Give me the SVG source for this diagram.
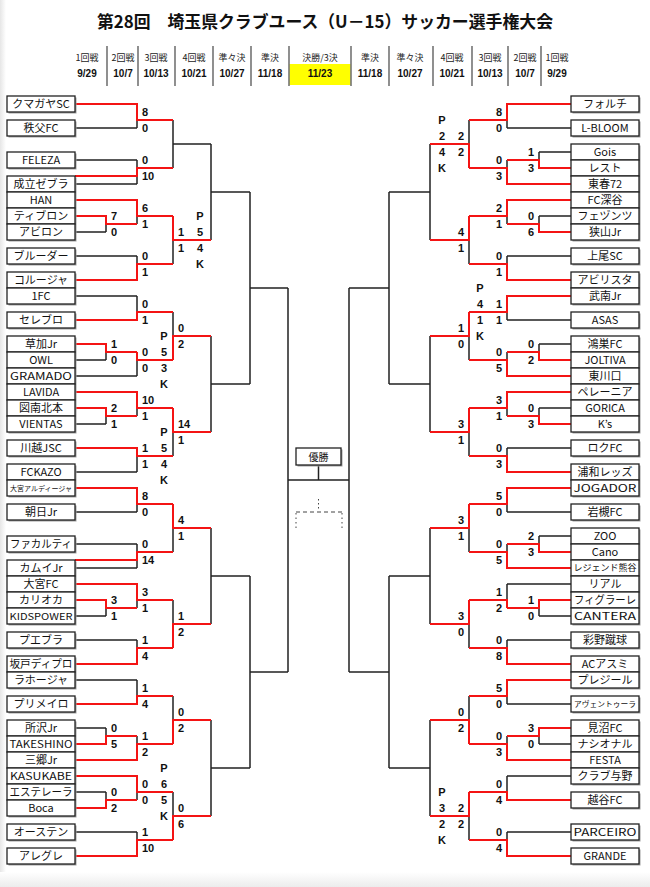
<svg xmlns="http://www.w3.org/2000/svg" width="650" height="887" viewBox="0 0 650 887">
<defs>
<linearGradient id="gl" x1="0" y1="0" x2="1" y2="0"><stop offset="0" stop-color="#e6e6e6"/><stop offset="1" stop-color="#ffffff"/></linearGradient>
<linearGradient id="gb" x1="0" y1="0" x2="0" y2="1"><stop offset="0" stop-color="#ffffff"/><stop offset="1" stop-color="#ececec"/></linearGradient>
</defs>
<style>
.k{stroke:#222;stroke-width:1.5;fill:none}
.r{stroke:#f41414;stroke-width:2;fill:none}
.box{fill:#fff;stroke:#222;stroke-width:1.3}
.sh{fill:#a0a0a0}
.n{font-family:"Noto Sans CJK JP","Liberation Sans",sans-serif;font-size:11px;text-anchor:middle;fill:#111}
.s{font-family:"Liberation Sans",Arial,sans-serif;font-weight:bold;font-size:11px;fill:#111}
.sl{text-anchor:start}.se{text-anchor:end}.sm{text-anchor:middle}
.hl{font-family:"Noto Sans CJK JP","Liberation Sans",sans-serif;font-size:9px;text-anchor:middle;fill:#222}
.hd{font-family:"Liberation Sans",Arial,sans-serif;font-weight:bold;font-size:10px;text-anchor:middle;fill:#111}
.sep{stroke:#555;stroke-width:1.3}
.dot{stroke:#444;stroke-width:1;fill:none}
</style>
<rect width="650" height="887" fill="#fff"/>
<rect x="0" y="0" width="6" height="887" fill="url(#gl)"/>
<rect x="0" y="872" width="650" height="15" fill="url(#gb)"/>

<g id="header">
<text x="325" y="28" font-family="'Noto Sans CJK JP','Liberation Sans',sans-serif" font-weight="bold" font-size="17" text-anchor="middle" textLength="456" lengthAdjust="spacingAndGlyphs" fill="#111">第28回　埼玉県クラブユース（U－15）サッカー選手権大会</text>
<rect x="289.5" y="64" width="61" height="21" fill="#ffff00"/>
<path class="sep" d="M107 46V86M138 46V86M175 46V86M213 46V86M251 46V86M289 46V86M351 46V86M389 46V86M433 46V86M472 46V86M508 46V86M541 46V86"/>
<text class="hl" x="87" y="61">1回戦</text><text class="hd" x="87" y="77">9/29</text>
<text class="hl" x="123" y="61">2回戦</text><text class="hd" x="123" y="77">10/7</text>
<text class="hl" x="156" y="61">3回戦</text><text class="hd" x="156" y="77">10/13</text>
<text class="hl" x="194" y="61">4回戦</text><text class="hd" x="194" y="77">10/21</text>
<text class="hl" x="232" y="61">準々決</text><text class="hd" x="232" y="77">10/27</text>
<text class="hl" x="270" y="61">準決</text><text class="hd" x="270" y="77">11/18</text>
<text class="hl" x="320" y="61">決勝/3決</text><text class="hd" x="320" y="77">11/23</text>
<text class="hl" x="370" y="61">準決</text><text class="hd" x="370" y="77">11/18</text>
<text class="hl" x="410" y="61">準々決</text><text class="hd" x="410" y="77">10/27</text>
<text class="hl" x="452" y="61">4回戦</text><text class="hd" x="452" y="77">10/21</text>
<text class="hl" x="490" y="61">3回戦</text><text class="hd" x="490" y="77">10/13</text>
<text class="hl" x="525" y="61">2回戦</text><text class="hd" x="525" y="77">10/7</text>
<text class="hl" x="557" y="61">1回戦</text><text class="hd" x="557" y="77">9/29</text>
</g>

<g id="connectors">
<path class="k" d="M75 216H106M75 232H106M106 216V232M106 224H137M75 344H106M75 360H106M106 344V360M106 352H137M75 408H106M75 424H106M106 408V424M106 416H137M75 600H106M75 616H106M106 600V616M106 608H137M75 728H106M75 744H106M106 728V744M106 736H137M75 792H106M75 808H106M106 792V808M106 800H137
M75 104H137M75 128H137M75 160H137M75 184H137M75 200H137M75 256H137M75 280H137M75 296H137M75 320H137M75 376H137M75 392H137M75 448H137M75 472H137M75 488H137M75 512H137M75 544H137M75 568H137M75 584H137M75 640H137M75 664H137M75 680H137M75 704H137M75 760H137M75 776H137M75 832H137M75 856H137
M137 104V128M137 120H173M137 160V184M137 168H173M137 200V224M137 216H173M137 256V280M137 264H173M137 296V320M137 312H173M137 352V376M137 360H173M137 392V416M137 408H173M137 448V472M137 456H173M137 488V512M137 504H173M137 544V568M137 552H173M137 584V608M137 600H173M137 640V664M137 648H173M137 680V704M137 696H173M137 736V760M137 744H173M137 776V800M137 792H173M137 832V856M137 840H173
M173 120V168M173 144H211M173 216V264M173 240H211M173 312V360M173 336H211M173 408V456M173 432H211M173 504V552M173 528H211M173 600V648M173 624H211M173 696V744M173 720H211M173 792V840M173 816H211
M211 144V240M211 192H250M211 336V432M211 384H250M211 528V624M211 576H250M211 720V816M211 768H250
M250 192V384M250 288H288M250 576V768M250 672H288M288 288V672M288 480H349"/>
<path class="k" d="M571 152H539M571 168H539M539 152V168M539 160H507M571 216H539M571 232H539M539 216V232M539 224H507M571 344H539M571 360H539M539 344V360M539 352H507M571 408H539M571 424H539M539 408V424M539 416H507M571 536H539M571 552H539M539 536V552M539 544H507M571 600H539M571 616H539M539 600V616M539 608H507M571 728H539M571 744H539M539 728V744M539 736H507
M571 104H507M571 128H507M571 184H507M571 200H507M571 256H507M571 280H507M571 296H507M571 320H507M571 376H507M571 392H507M571 448H507M571 472H507M571 488H507M571 512H507M571 568H507M571 584H507M571 640H507M571 664H507M571 680H507M571 704H507M571 760H507M571 776H507M571 800H507M571 832H507M571 856H507
M507 104V128M507 120H469M507 160V184M507 168H469M507 200V224M507 216H469M507 256V280M507 264H469M507 296V320M507 312H469M507 352V376M507 360H469M507 392V416M507 408H469M507 448V472M507 456H469M507 488V512M507 504H469M507 544V568M507 552H469M507 584V608M507 600H469M507 640V664M507 648H469M507 680V704M507 696H469M507 736V760M507 744H469M507 776V800M507 792H469M507 832V856M507 840H469
M469 120V168M469 144H430M469 216V264M469 240H430M469 312V360M469 336H430M469 408V456M469 432H430M469 504V552M469 528H430M469 600V648M469 624H430M469 696V744M469 720H430M469 792V840M469 816H430
M430 144V240M430 192H389M430 336V432M430 384H389M430 528V624M430 576H389M430 720V816M430 768H389
M389 192V384M389 288H349M389 576V768M389 672H349M349 288V672"/>
<path class="r" d="M75 216H106V224H137M75 344H106V352H137M75 408H106V416H137M75 600H106V608H137M75 744H106V736H137M75 808H106V800H137
M75 104H137V120H173M75 176H137V168H173M75 200H137V216H173M75 280H137V264H173M75 320H137V312H173M137 352V360H173M75 392H137V408H173M75 448H137V456H173M75 488H137V504H173M75 560H137V552H173M75 584H137V600H173M75 664H137V648H173M75 704H137V696H173M75 760H137V744H173M75 776H137V792H173M75 856H137V840H173
M173 216V240H211M173 360V336H211M173 408V432H211M173 504V528H211M173 648V624H211M173 744V720H211M173 840V816H211"/>
<path class="r" d="M571 168H539V160H507M571 232H539V224H507M571 360H539V352H507M571 424H539V416H507M571 552H539V544H507M571 600H539V608H507M571 728H539V736H507
M571 104H507V120H469M571 184H507V168H469M571 200H507V216H469M571 280H507V264H469M571 296H507V312H469M571 376H507V360H469M571 392H507V408H469M571 472H507V456H469M571 488H507V504H469M571 568H507V552H469M507 608V600H469M571 664H507V648H469M571 680H507V696H469M571 760H507V744H469M571 800H507V792H469M571 856H507V840H469
M469 168V144H430M469 216V240H430M469 312V336H430M469 408V432H430M469 504V528H430M469 600V624H430M469 744V720H430M469 792V816H430"/>
<path class="k" d="M318.5 465V480"/>
<path class="dot" stroke-dasharray="1.5 2.5" d="M318.5 499V511"/>
<path class="dot" stroke-dasharray="4 3" d="M296 512H342"/>
<path class="dot" stroke-dasharray="1.5 3" d="M296 513V528M342 513V528"/>
</g>

<g id="shadows">
<rect class="sh" x="8.5" y="97.5" width="68" height="16"/><rect class="sh" x="8.5" y="121.5" width="68" height="16"/><rect class="sh" x="8.5" y="153.5" width="68" height="16"/><rect class="sh" x="8.5" y="177.5" width="68" height="64"/><rect class="sh" x="8.5" y="249.5" width="68" height="16"/><rect class="sh" x="8.5" y="273.5" width="68" height="32"/><rect class="sh" x="8.5" y="313.5" width="68" height="16"/><rect class="sh" x="8.5" y="337.5" width="68" height="96"/><rect class="sh" x="8.5" y="441.5" width="68" height="16"/><rect class="sh" x="8.5" y="465.5" width="68" height="32"/><rect class="sh" x="8.5" y="505.5" width="68" height="16"/><rect class="sh" x="8.5" y="537.5" width="68" height="16"/><rect class="sh" x="8.5" y="561.5" width="68" height="64"/><rect class="sh" x="8.5" y="633.5" width="68" height="16"/><rect class="sh" x="8.5" y="657.5" width="68" height="32"/><rect class="sh" x="8.5" y="697.5" width="68" height="16"/><rect class="sh" x="8.5" y="721.5" width="68" height="96"/><rect class="sh" x="8.5" y="825.5" width="68" height="16"/><rect class="sh" x="8.5" y="849.5" width="68" height="16"/>
<rect class="sh" x="572.5" y="97.5" width="68" height="16"/><rect class="sh" x="572.5" y="121.5" width="68" height="16"/><rect class="sh" x="572.5" y="145.5" width="68" height="96"/><rect class="sh" x="572.5" y="249.5" width="68" height="16"/><rect class="sh" x="572.5" y="273.5" width="68" height="32"/><rect class="sh" x="572.5" y="313.5" width="68" height="16"/><rect class="sh" x="572.5" y="337.5" width="68" height="96"/><rect class="sh" x="572.5" y="441.5" width="68" height="16"/><rect class="sh" x="572.5" y="465.5" width="68" height="32"/><rect class="sh" x="572.5" y="505.5" width="68" height="16"/><rect class="sh" x="572.5" y="529.5" width="68" height="96"/><rect class="sh" x="572.5" y="633.5" width="68" height="16"/><rect class="sh" x="572.5" y="657.5" width="68" height="32"/><rect class="sh" x="572.5" y="697.5" width="68" height="16"/><rect class="sh" x="572.5" y="721.5" width="68" height="64"/><rect class="sh" x="572.5" y="793.5" width="68" height="16"/><rect class="sh" x="572.5" y="825.5" width="68" height="16"/><rect class="sh" x="572.5" y="849.5" width="68" height="16"/>
<rect class="sh" x="297.5" y="449.5" width="45" height="17"/>
</g>

<g id="L01"><rect class="box" x="7" y="96" width="68" height="16"/><text class="n" x="41" y="108">クマガヤSC</text></g>
<g id="L02"><rect class="box" x="7" y="120" width="68" height="16"/><text class="n" x="41" y="132">秩父FC</text></g>
<g id="L03"><rect class="box" x="7" y="152" width="68" height="16"/><text class="n" x="41" y="164">FELEZA</text></g>
<g id="L04"><rect class="box" x="7" y="176" width="68" height="16"/><text class="n" x="41" y="188">成立ゼブラ</text></g>
<g id="L05"><rect class="box" x="7" y="192" width="68" height="16"/><text class="n" x="41" y="204">HAN</text></g>
<g id="L06"><rect class="box" x="7" y="208" width="68" height="16"/><text class="n" x="41" y="220">ティブロン</text></g>
<g id="L07"><rect class="box" x="7" y="224" width="68" height="16"/><text class="n" x="41" y="236">アビロン</text></g>
<g id="L08"><rect class="box" x="7" y="248" width="68" height="16"/><text class="n" x="41" y="260">ブルーダー</text></g>
<g id="L09"><rect class="box" x="7" y="272" width="68" height="16"/><text class="n" x="41" y="284">コルージャ</text></g>
<g id="L10"><rect class="box" x="7" y="288" width="68" height="16"/><text class="n" x="41" y="300">1FC</text></g>
<g id="L11"><rect class="box" x="7" y="312" width="68" height="16"/><text class="n" x="41" y="324">セレブロ</text></g>
<g id="L12"><rect class="box" x="7" y="336" width="68" height="16"/><text class="n" x="41" y="348">草加Jr</text></g>
<g id="L13"><rect class="box" x="7" y="352" width="68" height="16"/><text class="n" x="41" y="364">OWL</text></g>
<g id="L14"><rect class="box" x="7" y="368" width="68" height="16"/><text class="n" x="41" y="380" style="font-size:10.5px" textLength="62" lengthAdjust="spacingAndGlyphs">GRAMADO</text></g>
<g id="L15"><rect class="box" x="7" y="384" width="68" height="16"/><text class="n" x="41" y="396">LAVIDA</text></g>
<g id="L16"><rect class="box" x="7" y="400" width="68" height="16"/><text class="n" x="41" y="412">図南北本</text></g>
<g id="L17"><rect class="box" x="7" y="416" width="68" height="16"/><text class="n" x="41" y="428">VIENTAS</text></g>
<g id="L18"><rect class="box" x="7" y="440" width="68" height="16"/><text class="n" x="41" y="452">川越JSC</text></g>
<g id="L19"><rect class="box" x="7" y="464" width="68" height="16"/><text class="n" x="41" y="476">FCKAZO</text></g>
<g id="L20"><rect class="box" x="7" y="480" width="68" height="16"/><text class="n" x="41" y="490.5" style="font-size:7px">大宮アルディージャ</text></g>
<g id="L21"><rect class="box" x="7" y="504" width="68" height="16"/><text class="n" x="41" y="516">朝日Jr</text></g>
<g id="L22"><rect class="box" x="7" y="536" width="68" height="16"/><text class="n" x="41" y="548" textLength="62" lengthAdjust="spacingAndGlyphs">ファカルティ</text></g>
<g id="L23"><rect class="box" x="7" y="560" width="68" height="16"/><text class="n" x="41" y="572">カムイJr</text></g>
<g id="L24"><rect class="box" x="7" y="576" width="68" height="16"/><text class="n" x="41" y="588">大宮FC</text></g>
<g id="L25"><rect class="box" x="7" y="592" width="68" height="16"/><text class="n" x="41" y="604">カリオカ</text></g>
<g id="L26"><rect class="box" x="7" y="608" width="68" height="16"/><text class="n" x="41" y="619.5" style="font-size:9px" textLength="63" lengthAdjust="spacingAndGlyphs">KIDSPOWER</text></g>
<g id="L27"><rect class="box" x="7" y="632" width="68" height="16"/><text class="n" x="41" y="644">プエブラ</text></g>
<g id="L28"><rect class="box" x="7" y="656" width="68" height="16"/><text class="n" x="41" y="668" textLength="63" lengthAdjust="spacingAndGlyphs">坂戸ディプロ</text></g>
<g id="L29"><rect class="box" x="7" y="672" width="68" height="16"/><text class="n" x="41" y="684">ラホージャ</text></g>
<g id="L30"><rect class="box" x="7" y="696" width="68" height="16"/><text class="n" x="41" y="708">プリメイロ</text></g>
<g id="L31"><rect class="box" x="7" y="720" width="68" height="16"/><text class="n" x="41" y="732">所沢Jr</text></g>
<g id="L32"><rect class="box" x="7" y="736" width="68" height="16"/><text class="n" x="41" y="747.5" style="font-size:10px" textLength="63" lengthAdjust="spacingAndGlyphs">TAKESHINO</text></g>
<g id="L33"><rect class="box" x="7" y="752" width="68" height="16"/><text class="n" x="41" y="764">三郷Jr</text></g>
<g id="L34"><rect class="box" x="7" y="768" width="68" height="16"/><text class="n" x="41" y="779.5" style="font-size:10px" textLength="62" lengthAdjust="spacingAndGlyphs">KASUKABE</text></g>
<g id="L35"><rect class="box" x="7" y="784" width="68" height="16"/><text class="n" x="41" y="796" textLength="63" lengthAdjust="spacingAndGlyphs">エステレーラ</text></g>
<g id="L36"><rect class="box" x="7" y="800" width="68" height="16"/><text class="n" x="41" y="812">Boca</text></g>
<g id="L37"><rect class="box" x="7" y="824" width="68" height="16"/><text class="n" x="41" y="836">オーステン</text></g>
<g id="L38"><rect class="box" x="7" y="848" width="68" height="16"/><text class="n" x="41" y="860">アレグレ</text></g>

<g id="R01"><rect class="box" x="571" y="96" width="68" height="16"/><text class="n" x="605" y="108">フォルチ</text></g>
<g id="R02"><rect class="box" x="571" y="120" width="68" height="16"/><text class="n" x="605" y="132">L-BLOOM</text></g>
<g id="R03"><rect class="box" x="571" y="144" width="68" height="16"/><text class="n" x="605" y="156">Gois</text></g>
<g id="R04"><rect class="box" x="571" y="160" width="68" height="16"/><text class="n" x="605" y="172">レスト</text></g>
<g id="R05"><rect class="box" x="571" y="176" width="68" height="16"/><text class="n" x="605" y="188">東春72</text></g>
<g id="R06"><rect class="box" x="571" y="192" width="68" height="16"/><text class="n" x="605" y="204">FC深谷</text></g>
<g id="R07"><rect class="box" x="571" y="208" width="68" height="16"/><text class="n" x="605" y="220">フェヅンツ</text></g>
<g id="R08"><rect class="box" x="571" y="224" width="68" height="16"/><text class="n" x="605" y="236">狭山Jr</text></g>
<g id="R09"><rect class="box" x="571" y="248" width="68" height="16"/><text class="n" x="605" y="260">上尾SC</text></g>
<g id="R10"><rect class="box" x="571" y="272" width="68" height="16"/><text class="n" x="605" y="284">アビリスタ</text></g>
<g id="R11"><rect class="box" x="571" y="288" width="68" height="16"/><text class="n" x="605" y="300">武南Jr</text></g>
<g id="R12"><rect class="box" x="571" y="312" width="68" height="16"/><text class="n" x="605" y="324">ASAS</text></g>
<g id="R13"><rect class="box" x="571" y="336" width="68" height="16"/><text class="n" x="605" y="348">鴻巣FC</text></g>
<g id="R14"><rect class="box" x="571" y="352" width="68" height="16"/><text class="n" x="605" y="364">JOLTIVA</text></g>
<g id="R15"><rect class="box" x="571" y="368" width="68" height="16"/><text class="n" x="605" y="380">東川口</text></g>
<g id="R16"><rect class="box" x="571" y="384" width="68" height="16"/><text class="n" x="605" y="396">ペレーニア</text></g>
<g id="R17"><rect class="box" x="571" y="400" width="68" height="16"/><text class="n" x="605" y="412">GORICA</text></g>
<g id="R18"><rect class="box" x="571" y="416" width="68" height="16"/><text class="n" x="605" y="428">K’s</text></g>
<g id="R19"><rect class="box" x="571" y="440" width="68" height="16"/><text class="n" x="605" y="452">ロクFC</text></g>
<g id="R20"><rect class="box" x="571" y="464" width="68" height="16"/><text class="n" x="605" y="476">浦和レッズ</text></g>
<g id="R21"><rect class="box" x="571" y="480" width="68" height="16"/><text class="n" x="605" y="492" style="font-size:10.5px" textLength="63" lengthAdjust="spacingAndGlyphs">JOGADOR</text></g>
<g id="R22"><rect class="box" x="571" y="504" width="68" height="16"/><text class="n" x="605" y="516">岩槻FC</text></g>
<g id="R23"><rect class="box" x="571" y="528" width="68" height="16"/><text class="n" x="605" y="540">ZOO</text></g>
<g id="R24"><rect class="box" x="571" y="544" width="68" height="16"/><text class="n" x="605" y="556">Cano</text></g>
<g id="R25"><rect class="box" x="571" y="560" width="68" height="16"/><text class="n" x="605" y="571" style="font-size:9px">レジェンド熊谷</text></g>
<g id="R26"><rect class="box" x="571" y="576" width="68" height="16"/><text class="n" x="605" y="588">リアル</text></g>
<g id="R27"><rect class="box" x="571" y="592" width="68" height="16"/><text class="n" x="605" y="604" textLength="62" lengthAdjust="spacingAndGlyphs">フィグラーレ</text></g>
<g id="R28"><rect class="box" x="571" y="608" width="68" height="16"/><text class="n" x="605" y="620" style="font-size:10.5px" textLength="62" lengthAdjust="spacingAndGlyphs">CANTERA</text></g>
<g id="R29"><rect class="box" x="571" y="632" width="68" height="16"/><text class="n" x="605" y="644">彩野蹴球</text></g>
<g id="R30"><rect class="box" x="571" y="656" width="68" height="16"/><text class="n" x="605" y="668">ACアスミ</text></g>
<g id="R31"><rect class="box" x="571" y="672" width="68" height="16"/><text class="n" x="605" y="684">プレジール</text></g>
<g id="R32"><rect class="box" x="571" y="696" width="68" height="16"/><text class="n" x="605" y="707" style="font-size:7.5px" textLength="62" lengthAdjust="spacingAndGlyphs">アヴェントゥーラ</text></g>
<g id="R33"><rect class="box" x="571" y="720" width="68" height="16"/><text class="n" x="605" y="732">見沼FC</text></g>
<g id="R34"><rect class="box" x="571" y="736" width="68" height="16"/><text class="n" x="605" y="748">ナシオナル</text></g>
<g id="R35"><rect class="box" x="571" y="752" width="68" height="16"/><text class="n" x="605" y="764">FESTA</text></g>
<g id="R36"><rect class="box" x="571" y="768" width="68" height="16"/><text class="n" x="605" y="780">クラブ与野</text></g>
<g id="R37"><rect class="box" x="571" y="792" width="68" height="16"/><text class="n" x="605" y="804">越谷FC</text></g>
<g id="R38"><rect class="box" x="571" y="824" width="68" height="16"/><text class="n" x="605" y="835.5" style="font-size:10px" textLength="63" lengthAdjust="spacingAndGlyphs">PARCEIRO</text></g>
<g id="R39"><rect class="box" x="571" y="848" width="68" height="16"/><text class="n" x="605" y="860">GRANDE</text></g>

<g id="champion"><rect class="box" x="296" y="448" width="45" height="17"/><text class="n" x="318.5" y="460.5" style="font-size:10px">優勝</text></g>

<g id="scores">
<g class="s sl">
<text x="111" y="220">7</text><text x="111" y="236">0</text>
<text x="111" y="348">1</text><text x="111" y="364">0</text>
<text x="111" y="412">2</text><text x="111" y="428">1</text>
<text x="111" y="604">3</text><text x="111" y="620">1</text>
<text x="111" y="732">0</text><text x="111" y="748">5</text>
<text x="111" y="796">0</text><text x="111" y="812">2</text>
<text x="142" y="116">8</text><text x="142" y="132">0</text>
<text x="142" y="164">0</text><text x="142" y="180">10</text>
<text x="142" y="212">6</text><text x="142" y="228">1</text>
<text x="142" y="260">0</text><text x="142" y="276">1</text>
<text x="142" y="308">0</text><text x="142" y="324">1</text>
<text x="142" y="356">0</text><text x="142" y="372">0</text>
<text x="142" y="404">10</text><text x="142" y="420">1</text>
<text x="142" y="452">1</text><text x="142" y="468">1</text>
<text x="142" y="500">8</text><text x="142" y="516">0</text>
<text x="142" y="548">0</text><text x="142" y="564">14</text>
<text x="142" y="596">3</text><text x="142" y="612">1</text>
<text x="142" y="644">1</text><text x="142" y="660">4</text>
<text x="142" y="692">1</text><text x="142" y="708">4</text>
<text x="142" y="740">1</text><text x="142" y="756">2</text>
<text x="142" y="788">0</text><text x="142" y="804">0</text>
<text x="142" y="836">1</text><text x="142" y="852">10</text>
<text x="178" y="236">1</text><text x="178" y="252">1</text>
<text x="178" y="332">0</text><text x="178" y="348">2</text>
<text x="178" y="428">14</text><text x="178" y="444">1</text>
<text x="178" y="524">4</text><text x="178" y="540">1</text>
<text x="178" y="620">1</text><text x="178" y="636">2</text>
<text x="178" y="716">0</text><text x="178" y="732">2</text>
<text x="178" y="812">0</text><text x="178" y="828">6</text>
</g>
<g class="s sm">
<text x="164" y="340">P</text><text x="164" y="356">5</text><text x="164" y="372">3</text><text x="164" y="388">K</text>
<text x="164" y="436">P</text><text x="164" y="452">5</text><text x="164" y="468">4</text><text x="164" y="484">K</text>
<text x="164" y="772">P</text><text x="164" y="788">6</text><text x="164" y="804">5</text><text x="164" y="820">K</text>
<text x="200" y="220">P</text><text x="200" y="236">5</text><text x="200" y="252">4</text><text x="200" y="268">K</text>
<text x="480" y="292">P</text><text x="480" y="308">4</text><text x="480" y="324">1</text><text x="480" y="340">K</text>
<text x="442" y="124">P</text><text x="442" y="140">2</text><text x="442" y="156">4</text><text x="442" y="172">K</text>
<text x="442" y="796">P</text><text x="442" y="812">3</text><text x="442" y="828">2</text><text x="442" y="844">K</text>
</g>
<g class="s se">
<text x="534" y="156">1</text><text x="534" y="172">3</text>
<text x="534" y="220">0</text><text x="534" y="236">6</text>
<text x="534" y="348">0</text><text x="534" y="364">2</text>
<text x="534" y="412">0</text><text x="534" y="428">3</text>
<text x="534" y="540">2</text><text x="534" y="556">3</text>
<text x="534" y="604">1</text><text x="534" y="620">0</text>
<text x="534" y="732">3</text><text x="534" y="748">0</text>
<text x="502" y="116">8</text><text x="502" y="132">0</text>
<text x="502" y="164">0</text><text x="502" y="180">3</text>
<text x="502" y="212">2</text><text x="502" y="228">1</text>
<text x="502" y="260">0</text><text x="502" y="276">1</text>
<text x="502" y="308">1</text><text x="502" y="324">1</text>
<text x="502" y="356">0</text><text x="502" y="372">5</text>
<text x="502" y="404">3</text><text x="502" y="420">1</text>
<text x="502" y="452">0</text><text x="502" y="468">3</text>
<text x="502" y="500">5</text><text x="502" y="516">0</text>
<text x="502" y="548">0</text><text x="502" y="564">5</text>
<text x="502" y="596">1</text><text x="502" y="612">2</text>
<text x="502" y="644">0</text><text x="502" y="660">8</text>
<text x="502" y="692">5</text><text x="502" y="708">0</text>
<text x="502" y="740">0</text><text x="502" y="756">3</text>
<text x="502" y="788">0</text><text x="502" y="804">4</text>
<text x="502" y="836">0</text><text x="502" y="852">4</text>
<text x="464" y="140">2</text><text x="464" y="156">2</text>
<text x="464" y="236">4</text><text x="464" y="252">1</text>
<text x="464" y="332">1</text><text x="464" y="348">0</text>
<text x="464" y="428">3</text><text x="464" y="444">1</text>
<text x="464" y="524">3</text><text x="464" y="540">1</text>
<text x="464" y="620">3</text><text x="464" y="636">0</text>
<text x="464" y="716">0</text><text x="464" y="732">2</text>
<text x="464" y="812">2</text><text x="464" y="828">2</text>
</g>
</g>
</svg>
